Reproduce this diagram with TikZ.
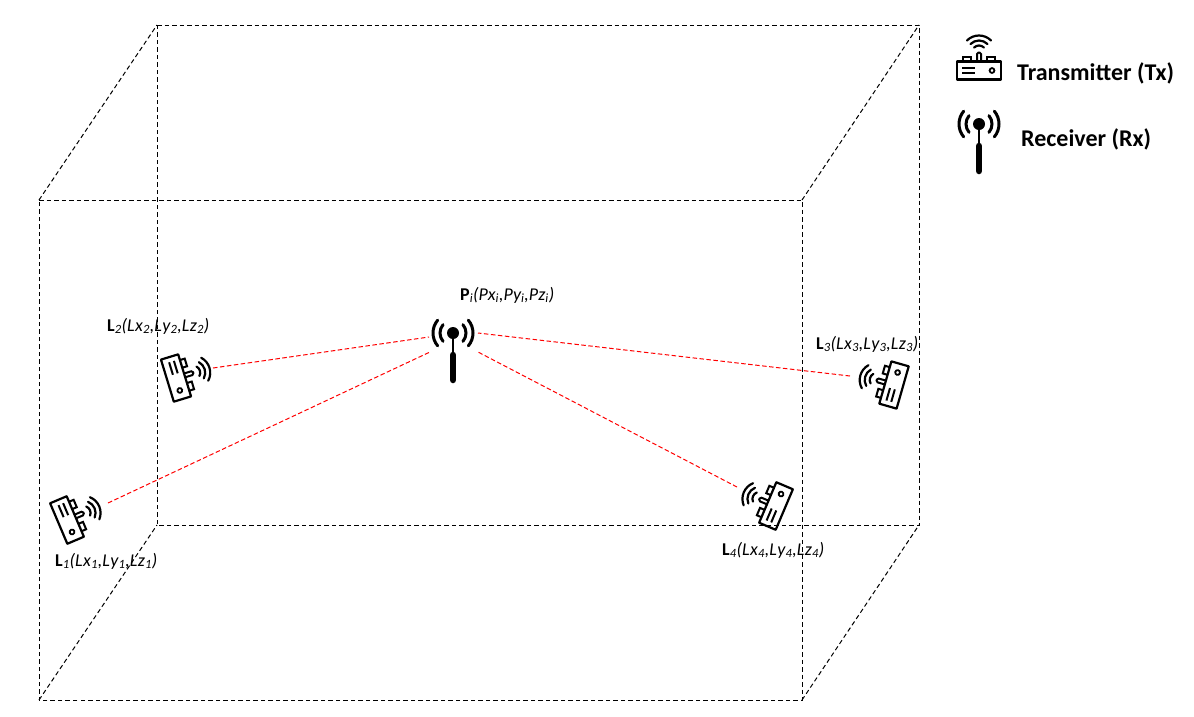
\documentclass[tikz,border=0pt]{standalone}
\usepackage{fontspec}
\setmainfont{Carlito}
\newcommand{\locl}[2]{\textbf{#1}\textit{\textsubscript{#2}(L\kern0.5pt x\textsubscript{#2},L\kern0.5pt y\textsubscript{#2},L\kern0.5pt z\textsubscript{#2})}}
\newcommand{\posl}{\textbf{P}\textit{\textsubscript{i}(Px\textsubscript{i},Py\textsubscript{i},Pz\textsubscript{i})}}
\tikzset{
  boxline/.style={draw=black,line width=1pt,dash pattern=on 4.5pt off 3pt},
  rayline/.style={draw=red,line width=1pt,dash pattern=on 4.5pt off 2.5pt},
  coordlabel/.style={font=\fontsize{18}{21}\selectfont,anchor=west,inner sep=0pt,text=black},
  legendlabel/.style={font=\fontsize{24}{28}\selectfont\bfseries,anchor=west,inner sep=0pt,text=black},
  txicon/.pic={
    \draw[line width=2.2pt,line join=round] (-22,-9) rectangle (22,9);
    \draw[line width=2pt] (-16,9) -- (-16,14) -- (-8,14) -- (-8,9);
    \draw[line width=2pt] (8,9) -- (8,14) -- (16,14) -- (16,9);
    \draw[line width=2pt,rounded corners=1.5pt] (-2,9) -- (-2,18) -- (2,18) -- (2,9);
    \draw[line width=2pt] (-17,3) -- (-4,3) (-17,-2) -- (-4,-2);
    \draw[line width=1.8pt] (13,0) circle (2.4);
    \foreach \r in {7,12,17}
      \draw[line width=2.2pt,line cap=round] (0,18) ++(45:\r) arc (45:135:\r);
  },
  rxicon/.pic={
    \fill (0,0) circle (6);
    \draw[line width=1.5pt] (0,0) -- (0,-19);
    \draw[line width=6.5pt,line cap=round] (0,-22) -- (0,-47);
    \foreach \r in {13,20}{
      \draw[line width=3pt,line cap=round] (-40:\r) arc (-40:40:\r);
      \draw[line width=3pt,line cap=round] (140:\r) arc (140:220:\r);
    }
  }
}
\begin{document}
\begin{tikzpicture}[x=1pt,y=1pt]
\useasboundingbox (0,0) rectangle (1194,-716);
\fill[white] (0,0) rectangle (1194,-716);
% room corners
\coordinate (fa) at (39,-200);
\coordinate (fb) at (802,-200);
\coordinate (fc) at (802,-700);
\coordinate (fd) at (39,-700);
\coordinate (ba) at (157,-25);
\coordinate (bb) at (919,-25);
\coordinate (bc) at (919,-525);
\coordinate (bd) at (157,-525);
\draw[boxline] (fa) -- (fb) -- (fc) -- (fd) -- cycle;
\draw[boxline] (ba) -- (bb) -- (bc) -- (bd) -- cycle;
\draw[boxline] (fa) -- (ba);
\draw[boxline] (fb) -- (bb);
\draw[boxline] (fc) -- (bc);
\draw[boxline] (fd) -- (bd);
% rays
\coordinate (rw) at (429,-337);
\coordinate (rsw) at (430,-352);
\coordinate (re) at (478,-333);
\coordinate (rse) at (478,-352);
\coordinate (t1) at (108,-503);
\coordinate (t2) at (213,-368);
\coordinate (t3) at (850,-376);
\coordinate (t4) at (737,-487);
\draw[rayline] (t1) -- (rsw);
\draw[rayline] (t2) -- (rw);
\draw[rayline] (t3) -- (re);
\draw[rayline] (t4) -- (rse);
% icons
\pic[rotate=-67] at (67,-520) {txicon};
\pic[rotate=-73] at (176,-378) {txicon};
\pic[rotate=74] at (894,-385) {txicon};
\pic[rotate=67] at (776,-506) {txicon};
\pic at (453,-333) {rxicon};
\pic at (979,-70.5) {txicon};
\pic at (979,-124) {rxicon};
% labels
\node[coordlabel] (lb1) at (55,-561) {\locl{L}{1}};
\node[coordlabel] (lb2) at (107,-326) {\locl{L}{2}};
\node[coordlabel] (lb3) at (816,-344) {\locl{L}{3}};
\node[coordlabel] (lb4) at (722,-550) {\locl{L}{4}};
\node[coordlabel] (lbp) at (460,-295) {\posl};
\node[legendlabel] (lgt) at (1017,-73) {Transmitter (Tx)};
\node[legendlabel] (lgr) at (1021,-139) {Receiver (Rx)};
\end{tikzpicture}
\end{document}
